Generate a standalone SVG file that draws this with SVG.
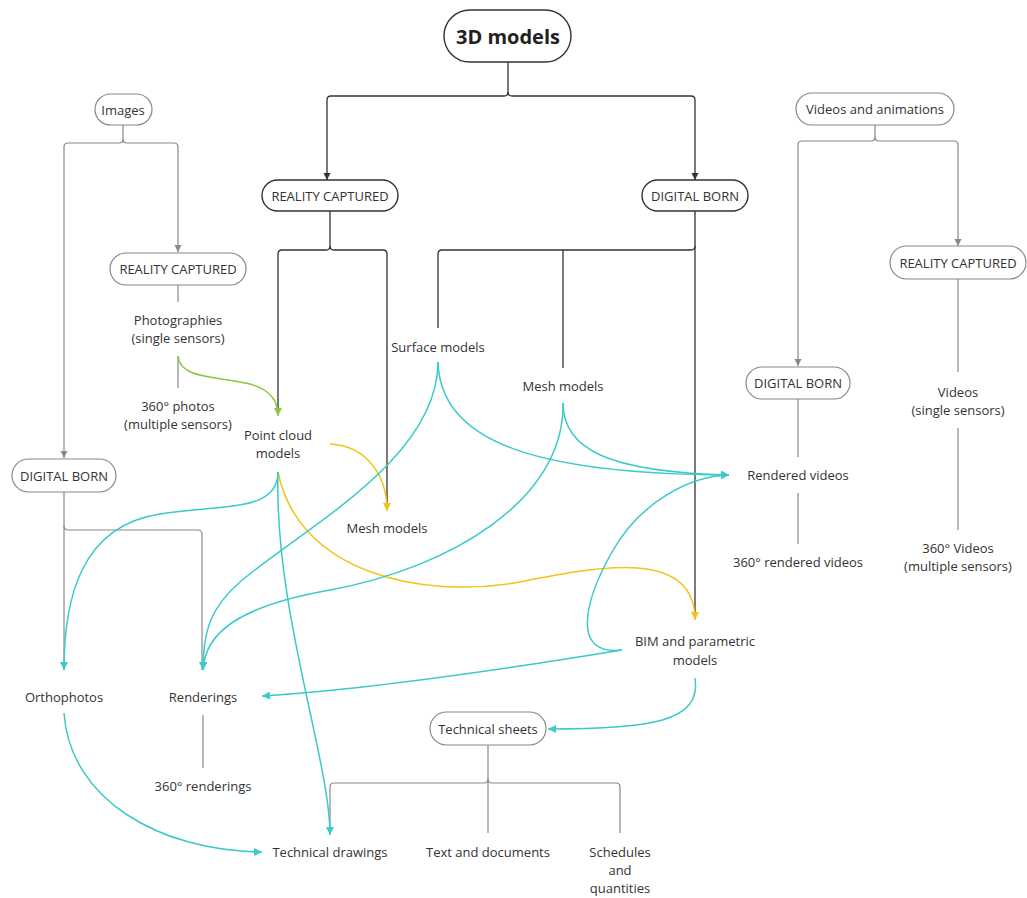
<svg xmlns="http://www.w3.org/2000/svg" width="1027" height="898" viewBox="0 0 1027 898">
<style>
text{font-family:"Open Sans","Noto Sans","Liberation Sans",sans-serif;font-size:13px;fill:#333;text-anchor:middle;dominant-baseline:central}
.title{font-size:20px;font-weight:bold;fill:#222}
.pk{fill:#fff;stroke:#333;stroke-width:1.4}
.pg{fill:#fff;stroke:#888;stroke-width:1.2}
.k{fill:none;stroke:#333;stroke-width:1.3}
.g{fill:none;stroke:#888;stroke-width:1.2}
.c{fill:none;stroke:#3cc9c9;stroke-width:1.5}
.y{fill:none;stroke:#f0c419;stroke-width:1.5}
.gr{fill:none;stroke:#8cc63f;stroke-width:1.5}
</style>
<defs>
<marker id="ak" viewBox="0 0 10 10" refX="10" refY="5" markerWidth="7" markerHeight="8" markerUnits="userSpaceOnUse" orient="auto"><path d="M0,0L10,5L0,10z" fill="#333"/></marker>
<marker id="ag" viewBox="0 0 10 10" refX="10" refY="5" markerWidth="7" markerHeight="8" markerUnits="userSpaceOnUse" orient="auto"><path d="M0,0L10,5L0,10z" fill="#888"/></marker>
<marker id="ac" viewBox="0 0 10 10" refX="10" refY="5" markerWidth="9" markerHeight="8" markerUnits="userSpaceOnUse" orient="auto"><path d="M0,0L10,5L0,10z" fill="#3cc9c9"/></marker>
<marker id="ay" viewBox="0 0 10 10" refX="10" refY="5" markerWidth="9" markerHeight="8" markerUnits="userSpaceOnUse" orient="auto"><path d="M0,0L10,5L0,10z" fill="#f0c419"/></marker>
<marker id="agr" viewBox="0 0 10 10" refX="10" refY="5" markerWidth="9" markerHeight="8" markerUnits="userSpaceOnUse" orient="auto"><path d="M0,0L10,5L0,10z" fill="#8cc63f"/></marker>
</defs>

<g id="connectors">
<!-- black tree -->
<path class="k" d="M508,62V92q0,4 -4,4H331q-4,0 -4,4V180" marker-end="url(#ak)"/>
<path class="k" d="M508,92q0,4 4,4H691q4,0 4,4V180" marker-end="url(#ak)"/>
<path class="k" d="M330,211V246q0,4 -4,4H282q-4,0 -4,4V412"/>
<path class="k" d="M330,246q0,4 4,4H383q4,0 4,4V506"/>
<path class="k" d="M695,211V246q0,4 -4,4H442q-4,0 -4,4V328"/>
<path class="k" d="M563,250V368"/>
<path class="k" d="M695,246V614"/>
<!-- grey trees -->
<path class="g" d="M123,125V139q0,4 -4,4H68q-4,0 -4,4V458" marker-end="url(#ag)"/>
<path class="g" d="M123,139q0,4 4,4H174q4,0 4,4V252" marker-end="url(#ag)"/>
<path class="g" d="M178,285V302"/>
<path class="g" d="M178,356V388"/>
<path class="g" d="M64,492V670"/>
<path class="g" d="M64,526q0,4 4,4H198q4,0 4,4V670"/>
<path class="g" d="M203,715V768"/>
<path class="g" d="M875,125V137q0,4 -4,4H802q-4,0 -4,4V366" marker-end="url(#ag)"/>
<path class="g" d="M875,137q0,4 4,4H954q4,0 4,4V246" marker-end="url(#ag)"/>
<path class="g" d="M958,279V372"/>
<path class="g" d="M958,428V530"/>
<path class="g" d="M798,399V457"/>
<path class="g" d="M798,493V544"/>
<path class="g" d="M488,745V779q0,4 -4,4H334q-4,0 -4,4V834"/>
<path class="g" d="M488,779V833"/>
<path class="g" d="M488,779q0,4 4,4H616q4,0 4,4V833"/>
<!-- green -->
<path class="gr" d="M178,356C180,380 220,376 250,384C270,390 278,400 278,416" marker-end="url(#agr)"/>
<!-- yellow -->
<path class="y" d="M330,444C366,446 387,474 387,511" marker-end="url(#ay)"/>
<path class="y" d="M278,472C298,572 420,600 520,582C600,566 695,548 695,620" marker-end="url(#ay)"/>
<!-- cyan -->
<path class="c" d="M278,472C278,512 225,504 160,514C80,526 64,600 64,670" marker-end="url(#ac)"/>
<path class="c" d="M278,472C274,610 330,760 330,835" marker-end="url(#ac)"/>
<path class="c" d="M438,362C438,460 300,530 240,582C210,608 203,632 203,670" marker-end="url(#ac)"/>
<path class="c" d="M438,362C440,440 530,474 729,475" marker-end="url(#ac)"/>
<path class="c" d="M563,403C565,500 450,568 330,590C240,606 205,632 203,670" marker-end="url(#ac)"/>
<path class="c" d="M563,403C563,450 610,472 729,475" marker-end="url(#ac)"/>
<path class="c" d="M622,650C570,656 585,600 612,552C640,502 690,476 729,475" marker-end="url(#ac)"/>
<path class="c" d="M622,650C500,670 360,690 262,696" marker-end="url(#ac)"/>
<path class="c" d="M695,678C702,722 650,729 548,729" marker-end="url(#ac)"/>
<path class="c" d="M64,713C70,800 160,851 262,852" marker-end="url(#ac)"/>
</g>

<g id="n-3dmodels"><rect class="pk" x="444" y="10" width="127" height="52" rx="26"/><text class="title" x="508" y="36">3D models</text></g>
<g id="n-rc-mid"><rect class="pk" x="262" y="180" width="136" height="31" rx="15.5"/><text x="330" y="196">REALITY CAPTURED</text></g>
<g id="n-db-mid"><rect class="pk" x="642" y="180" width="106" height="31" rx="15.5"/><text x="695" y="196">DIGITAL BORN</text></g>
<g id="n-images"><rect class="pg" x="95" y="94" width="57" height="31" rx="15.5"/><text x="123" y="110">Images</text></g>
<g id="n-rc-left"><rect class="pg" x="110" y="253" width="136" height="32" rx="16"/><text x="178" y="269">REALITY CAPTURED</text></g>
<g id="n-db-left"><rect class="pg" x="12" y="459" width="104" height="33" rx="16.5"/><text x="64" y="476">DIGITAL BORN</text></g>
<g id="n-videos"><rect class="pg" x="796" y="93" width="158" height="32" rx="16"/><text x="875" y="109">Videos and animations</text></g>
<g id="n-rc-right"><rect class="pg" x="890" y="246" width="136" height="33" rx="16.5"/><text x="958" y="263">REALITY CAPTURED</text></g>
<g id="n-db-right"><rect class="pg" x="746" y="367" width="104" height="32" rx="16"/><text x="798" y="383">DIGITAL BORN</text></g>
<g id="n-techsheets"><rect class="pg" x="430" y="712" width="116" height="33" rx="16.5"/><text x="488" y="729">Technical sheets</text></g>

<g id="n-photographies"><text x="178" y="320">Photographies</text><text x="178" y="338">(single sensors)</text></g>
<g id="n-360photos"><text x="178" y="406">360° photos</text><text x="178" y="424">(multiple sensors)</text></g>
<g id="n-pointcloud"><text x="278" y="435">Point cloud</text><text x="278" y="453">models</text></g>
<g id="n-surface"><text x="438" y="347">Surface models</text></g>
<g id="n-mesh-upper"><text x="563" y="386">Mesh models</text></g>
<g id="n-mesh-lower"><text x="387" y="528">Mesh models</text></g>
<g id="n-renderedvideos"><text x="798" y="475">Rendered videos</text></g>
<g id="n-360renderedvideos"><text x="798" y="562">360° rendered videos</text></g>
<g id="n-videos-single"><text x="958" y="392">Videos</text><text x="958" y="410">(single sensors)</text></g>
<g id="n-360videos"><text x="958" y="548">360° Videos</text><text x="958" y="566">(multiple sensors)</text></g>
<g id="n-bim"><text x="695" y="641">BIM and parametric</text><text x="695" y="660">models</text></g>
<g id="n-orthophotos"><text x="64" y="697">Orthophotos</text></g>
<g id="n-renderings"><text x="203" y="697">Renderings</text></g>
<g id="n-360renderings"><text x="203" y="786">360° renderings</text></g>
<g id="n-techdrawings"><text x="330" y="852">Technical drawings</text></g>
<g id="n-textdocs"><text x="488" y="852">Text and documents</text></g>
<g id="n-schedules"><text x="620" y="852">Schedules</text><text x="620" y="870">and</text><text x="620" y="888">quantities</text></g>
</svg>
